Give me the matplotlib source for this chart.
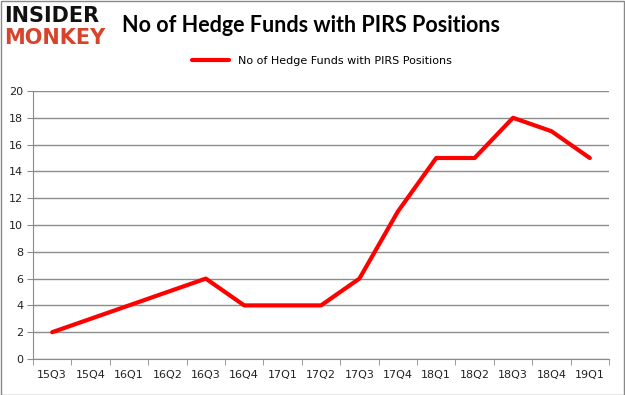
import matplotlib.pyplot as plt
import numpy as np

quarters = ["15Q3", "15Q4", "16Q1", "16Q2", "16Q3", "16Q4", "17Q1", "17Q2",
            "17Q3", "17Q4", "18Q1", "18Q2", "18Q3", "18Q4", "19Q1"]
funds = [2, 3, 4, 5, 6, 4, 4, 4, 6, 11, 15, 15, 18, 17, 15]
y_ticks = list(range(0, 21, 2))

W, H = 625, 395
fig = plt.figure(figsize=(W / 100, H / 100), dpi=100)
fig.patch.set_facecolor("white")

# plot area in pixel coords
left, right, top, bottom = 33, 609, 91, 359
ax = fig.add_axes([left / W, 1 - bottom / H, (right - left) / W, (bottom - top) / H])

x = np.arange(len(quarters))
ax.plot(x, funds, color="#ff0000", lw=3, solid_capstyle="round",
        label="No of Hedge Funds with PIRS Positions")

ax.set_xlim(-0.5, len(quarters) - 0.5)
ax.set_ylim(0, 20)
ax.set_yticks(y_ticks)
ax.set_yticklabels([str(v) for v in y_ticks], fontsize=8, color="#222222")
ax.yaxis.grid(True, color="#8c8c8c", lw=1)
ax.set_axisbelow(True)

ax.set_xticks(x)
ax.set_xticklabels(quarters, fontsize=8, color="#222222")
ax.tick_params(axis="x", length=0, pad=8)
ax.set_xticks(np.arange(-0.5, len(quarters), 1), minor=True)
ax.tick_params(axis="x", which="minor", length=4, color="#8c8c8c", direction="out")
ax.tick_params(axis="y", length=4, color="#8c8c8c", pad=3)

for side in ["top", "right"]:
    ax.spines[side].set_visible(False)
for side in ["left", "bottom"]:
    ax.spines[side].set_color("#8c8c8c")

leg = fig.legend(loc="center", bbox_to_anchor=(0.515, 1 - 61 / H), frameon=False,
                 fontsize=8, handlelength=3.4)

# title and logo
fig.text(122 / W, 1 - 26 / H, "No of Hedge Funds with PIRS Positions",
         fontsize=15.5, fontweight="bold", family="Lato", va="center", ha="left")
fig.text(4 / W, 1 - 16 / H, "INSIDER", fontsize=15, fontweight="black",
         va="center", ha="left", color="#111111")
fig.text(4 / W, 1 - 38 / H, "MONKEY", fontsize=15, fontweight="black",
         va="center", ha="left", color="#d8432c")

# outer border
fig.add_artist(plt.Rectangle((0.5 / W, 0.5 / H), 1 - 1.5 / W, 1 - 1.5 / H,
                             transform=fig.transFigure, fill=False,
                             edgecolor="#888888", lw=1))

fig.savefig("out.png", dpi=100)
